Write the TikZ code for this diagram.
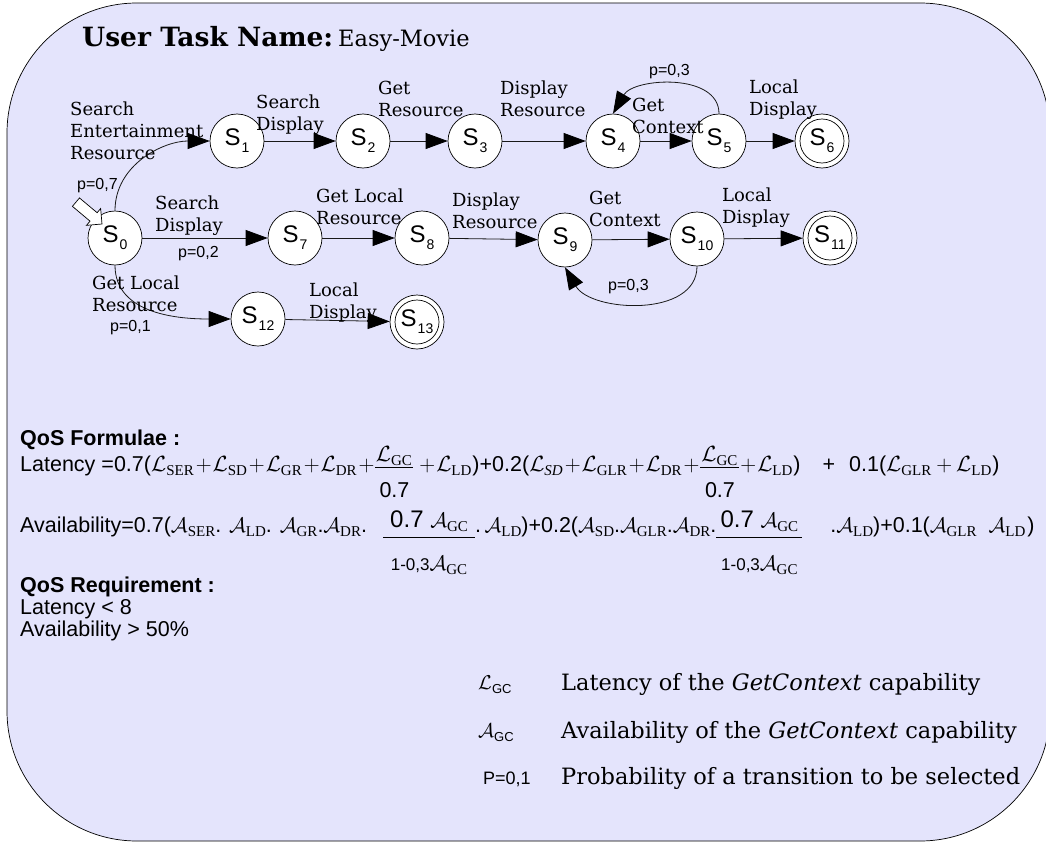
\RequirePackage{fix-cm}
\documentclass[tikz,border=0pt]{standalone}
\usepackage{amsmath}
\usepackage{fontspec}
\setmainfont{DejaVu Serif}
\setsansfont{Liberation Sans}
\newfontfamily\tnr{Liberation Serif}
\usetikzlibrary{arrows.meta}
\definecolor{bgc}{RGB}{228,228,252}
\newcommand{\Lc}[1]{{\fontsize{22}{22}\selectfont$\mathcal{L}$}\raisebox{-4.5pt}{\tnr\fontsize{15}{15}\selectfont #1}\kern1pt}
\newcommand{\Li}[1]{{\fontsize{22}{22}\selectfont$\mathcal{L}$}\raisebox{-4.5pt}{\tnr\itshape\fontsize{15}{15}\selectfont #1}\kern1pt}
\newcommand{\Ac}[1]{{\fontsize{21}{21}\selectfont$\mathcal{A}$}\raisebox{-4.5pt}{\tnr\fontsize{15}{15}\selectfont #1}}
\newcommand{\pl}{\kern1pt{\fontsize{22}{22}\selectfont$+$}\kern1pt}
\newcommand{\St}[1]{S\kern1pt\raisebox{-7pt}{\fontsize{14}{14}\selectfont #1}}
% width, numerator, num raise, bar raise, denominator, den raise
\newcommand{\Frac}[6]{\makebox[#1][c]{\raisebox{#3}[0pt][0pt]{#2}}\llap{\rule[#4]{#1}{0.7pt}}\llap{\makebox[#1][c]{\raisebox{#6}[0pt][0pt]{#5}}}}
\tikzset{
  state/.style={circle, draw=black, line width=0.7pt, fill=white, minimum size=54pt, inner sep=0pt, font=\sffamily\fontsize{24}{24}\selectfont},
  ed/.style={draw=black!90, line width=0.8pt, -{Triangle[length=22pt,width=16pt,color=black]}},
  lbl/.style={anchor=north west, inner sep=0pt, align=left, font=\fontsize{18}{22}\selectfont},
  plbl/.style={anchor=north west, inner sep=0pt, font=\sffamily\fontsize{16}{16}\selectfont},
  qos/.style={anchor=base west, inner sep=0pt, font=\sffamily\fontsize{21.5}{21.5}\selectfont},
  leg/.style={anchor=base west, inner sep=0pt, font=\fontsize{22.5}{22.5}\selectfont},
}
\begin{document}
\begin{tikzpicture}[x=1pt,y=1pt]
\useasboundingbox (0,0) rectangle (1046,-843);
\draw[fill=bgc, line width=0.7pt, rounded corners=130pt] (7,-3) rectangle (1050,-841);
\node[anchor=base west, inner sep=0pt] (title) at (82,-47) {\fontsize{26.5}{26.5}\selectfont\bfseries User Task Name:\hspace{5pt}\mdseries\fontsize{22.5}{22.5}\selectfont Easy-Movie};
% states
\node[state] (S0) at (115,-238) {\St0};
\node[state] (S1) at (237,-141) {\St1};
\node[state] (S2) at (363,-141) {\St2};
\node[state] (S3) at (475,-141) {\St3};
\node[state] (S4) at (613,-141) {\St4};
\node[state] (S5) at (719,-141) {\St5};
\node[state] (S6) at (822,-141) {\St6};
\node[state] (S7) at (295,-238) {\St7};
\node[state] (S8) at (422,-238) {\St8};
\node[state] (S9) at (565,-240) {\St9};
\node[state] (S10) at (697,-239) {\St{10}};
\node[state] (S11) at (830,-238) {\St{11}};
\node[state] (S12) at (258,-319) {\St{12}};
\node[state] (S13) at (417,-322) {\St{13}};
\foreach \n in {S6,S11,S13} \draw[line width=0.7pt] (\n.center) circle[radius=22pt];
% initial arrow
\coordinate (ini) at (102,-224);
\draw[fill=white, line width=0.7pt, shift={(ini)}, rotate=-40] (0,0) -- (-11,11) -- (-11,5.5) -- (-34,5.5) -- (-34,-5.5) -- (-11,-5.5) -- (-11,-11) -- cycle;
% edges
\draw[ed] (S0) to[out=90,in=180] (S1);
\draw[ed] (S0) -- (S7);
\draw[ed] (S0) to[out=-90,in=180] (S12);
\draw[ed] (S1) -- (S2);
\draw[ed] (S2) -- (S3);
\draw[ed] (S3) -- (S4);
\draw[ed] (S4) -- (S5);
\draw[ed] (S5) -- (S6);
\draw[ed] (S5.north) to[out=90,in=60,looseness=1.0] (S4.north);
\draw[ed] (S7) -- (S8);
\draw[ed] (S8) -- (S9);
\draw[ed] (S9) -- (S10);
\draw[ed] (S10) -- (S11);
\draw[ed] (S10.south) to[out=-90,in=-60,looseness=1.0] (S9.south);
\draw[ed] (S12) -- (S13);
% labels
\node[lbl] (l01) at (70,-102) {Search\\Entertainment\\Resource};
\node[plbl] (p01) at (77,-178) {p=0,7};
\node[lbl] (l12) at (256,-95) {Search\\Display};
\node[lbl] (l23) at (378,-81) {Get\\Resource};
\node[lbl] (l34) at (500,-81) {Display\\Resource};
\node[plbl] (p54) at (649,-64) {p=0,3};
\node[lbl] (l45) at (632,-98) {Get\\Context};
\node[lbl] (l56) at (749,-80) {Local\\Display};
\node[lbl] (l07) at (155,-196) {Search\\Display};
\node[plbl] (p07) at (178,-246) {p=0,2};
\node[lbl] (l78) at (316,-189) {Get Local\\Resource};
\node[lbl] (l89) at (452,-193) {Display\\Resource};
\node[lbl] (l910) at (589,-191) {Get\\Context};
\node[lbl] (l1011) at (722,-188) {Local\\Display};
\node[plbl] (p109) at (608,-279) {p=0,3};
\node[lbl] (l012) at (92,-276) {Get Local\\Resource};
\node[plbl] (p012) at (110,-320) {p=0,1};
\node[lbl] (l1213) at (309,-283) {Local\\Display};
% QoS
\node[qos] (qf) at (20,-445) {\bfseries QoS Formulae :};
\node[qos] (lat) at (20,-471) {Latency =0.7(\Lc{SER}\pl\Lc{SD}\pl\Lc{GR}\pl\Lc{DR}\pl\Frac{38pt}{\Lc{GC}}{10pt}{3pt}{0.7}{-26pt}\hspace{5pt}\pl\Lc{LD})+0.2(\Li{SD}\pl\Lc{GLR}\pl\Lc{DR}\pl\Frac{39pt}{\Lc{GC}}{10pt}{3pt}{0.7}{-26pt}\pl\Lc{LD})\hspace{22pt}+\hspace{14pt}0.1(\Lc{GLR}\kern3pt\pl\kern3pt\Lc{LD})};
\node[qos] (av) at (20,-532) {Availability=0.7(\Ac{SER}. \Ac{LD}. \Ac{GR}.\Ac{DR}.\hspace{16pt}\Frac{92pt}{{\fontsize{24}{24}\selectfont 0.7 \Ac{GC}}}{5pt}{-6pt}{\fontsize{17}{17}\selectfont 1-0,3\Ac{GC}}{-38pt}.\,\Ac{LD})+0.2(\Ac{SD}.\Ac{GLR}.\Ac{DR}.\Frac{86pt}{{\fontsize{24}{24}\selectfont 0.7 \Ac{GC}}}{5pt}{-6pt}{\fontsize{17}{17}\selectfont 1-0,3\Ac{GC}}{-38pt}\hspace{28pt}.\Ac{LD})+0.1(\Ac{GLR}\hspace{12pt}\Ac{LD}\kern2pt)};
\node[qos] (qr) at (20,-592) {\bfseries QoS Requirement :};
\node[qos] (r1) at (20,-614) {Latency < 8};
\node[qos] (r2) at (20,-636) {Availability > 50\%};
% legend
\node[qos] (g1s) at (478,-689) {{\fontsize{20}{20}\selectfont$\mathcal{L}$}\raisebox{-4pt}{\fontsize{13}{13}\selectfont GC}};
\node[leg] (g1t) at (561,-690) {Latency of the \textit{GetContext} capability};
\node[qos] (g2s) at (478,-737) {{\fontsize{20}{20}\selectfont$\mathcal{A}$}\raisebox{-4pt}{\fontsize{13}{13}\selectfont GC}};
\node[leg] (g2t) at (561,-738) {Availability of the \textit{GetContext} capability};
\node[qos, font=\sffamily\fontsize{18}{18}\selectfont] (g3s) at (483,-784) {P=0,1};
\node[leg] (g3t) at (561,-784) {Probability of a transition to be selected};
\end{tikzpicture}
\end{document}
